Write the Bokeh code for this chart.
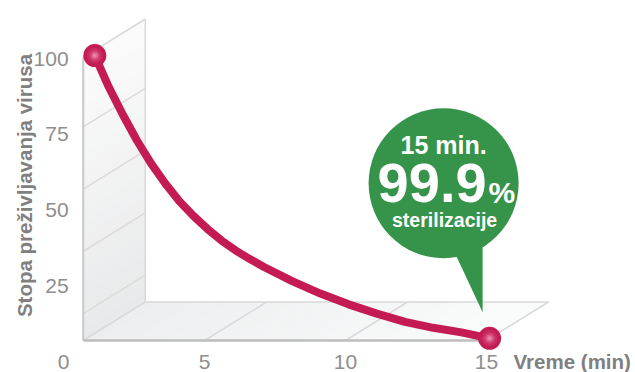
from bokeh.plotting import figure
from bokeh.models import Range1d
from bokeh.core.properties import value
from bokeh.embed import file_html
from bokeh.resources import INLINE

# ---- data -------------------------------------------------------------
minutes = [1, 1.5, 2, 2.5, 3, 3.5, 4, 4.5, 5, 5.5, 6, 6.5, 7,
           8, 9, 10, 11, 12, 13, 14, 15]
survival = [100, 88.8, 79.0, 69.9, 61.8, 54.8, 48.5, 43.3, 38.7, 34.6, 31.1, 28.1, 25.3,
            20.3, 15.9, 12.1, 8.8, 5.9, 3.8, 2.2, 0.1]

x_ticks = [0, 5, 10, 15]
x_tick_labels = ["0", "5", "10", "15"]
y_ticks = [25, 50, 75, 100]
y_tick_labels = ["25", "50", "75", "100"]

x_title = "Vreme (min)"
y_title = "Stopa preživljavanja virusa"
callout_lines = ["15 min.", "99.9", "%", "sterilizacije"]

# ---- layout -----------------------------------------------------------
W, H = 635, 372
X0_PX, PX_PER_MIN = 63.0, 28.2          # screen x of t=0, pixels per minute
FLOOR_PX, PX_PER_PCT = 340.0, 2.83      # front floor of the box, pixels per %
TICK0_PX, TICK_PX_PER_PCT = 361.0, 3.03 # scale used by the printed tick labels

BOX_LEFT, BOX_RIGHT, BOX_TOP = 0.7, 15.0, 100.0
DEPTH_X, DEPTH_Y = 2.2, 13.6            # perspective offset of the back planes
WALL_LINES = [9.5, 31.5, 53.5, 75.5]
CURVE_DEPTH = 0.05

FONT = value("Liberation Sans")
CRIMSON = "#c51b55"
GREEN = "#36944a"
EDGE = "#d9d9d9"
TICK_COLOR = "#8e8e8e"
TITLE_COLOR = "#808080"


def px_to_plot(sx, sy):
    return (sx - X0_PX) / PX_PER_MIN, (FLOOR_PX - sy) / PX_PER_PCT


def blend(c0, c1, f):
    a = [int(c0[i:i + 2], 16) for i in (1, 3, 5)]
    b = [int(c1[i:i + 2], 16) for i in (1, 3, 5)]
    return "#%02x%02x%02x" % tuple(round(a[k] + (b[k] - a[k]) * f) for k in range(3))


p = figure(width=W, height=H, output_backend="svg", toolbar_location=None,
           x_axis_location=None, y_axis_location=None, min_border=0,
           x_range=Range1d(-X0_PX / PX_PER_MIN, (W - X0_PX) / PX_PER_MIN),
           y_range=Range1d(-(H - FLOOR_PX) / PX_PER_PCT, FLOOR_PX / PX_PER_PCT))
p.extra_y_ranges = {"ticks": Range1d(-(H - TICK0_PX) / TICK_PX_PER_PCT,
                                     TICK0_PX / TICK_PX_PER_PCT)}
p.outline_line_color = None
p.background_fill_color = "white"
p.border_fill_color = "white"
p.grid.visible = False

# ---- 3D box: left wall and floor with soft shading --------------------
n = 24
wall_xs, wall_ys, wall_c = [], [], []
for i in range(n):
    v0 = BOX_TOP * i / n
    v1 = BOX_TOP * (i + 1) / n
    wall_xs.append([BOX_LEFT, BOX_LEFT, BOX_LEFT + DEPTH_X, BOX_LEFT + DEPTH_X])
    wall_ys.append([v0, v1, v1 + DEPTH_Y, v0 + DEPTH_Y])
    wall_c.append(blend("#e8e9ea", "#fbfbfb", i / (n - 1)))
p.patches(wall_xs, wall_ys, fill_color=wall_c, line_color=wall_c, line_width=0.5)

floor_xs, floor_ys, floor_c = [], [], []
for i in range(n):
    t0 = BOX_LEFT + (BOX_RIGHT - BOX_LEFT) * i / n
    t1 = BOX_LEFT + (BOX_RIGHT - BOX_LEFT) * (i + 1) / n
    floor_xs.append([t0, t1, t1 + DEPTH_X, t0 + DEPTH_X])
    floor_ys.append([0, 0, DEPTH_Y, DEPTH_Y])
    floor_c.append(blend("#eceeef", "#fafbfb", i / (n - 1)))
p.patches(floor_xs, floor_ys, fill_color=floor_c, line_color=floor_c, line_width=0.5)

# wall grid lines
p.multi_line([[BOX_LEFT, BOX_LEFT + DEPTH_X] for _ in WALL_LINES],
             [[v, v + DEPTH_Y] for v in WALL_LINES],
             line_color="#dadada", line_width=1.5)
# floor grid lines at the labelled minutes
inner = [t for t in x_ticks if BOX_LEFT < t < BOX_RIGHT]
p.multi_line([[t, t + DEPTH_X] for t in inner], [[0, DEPTH_Y] for _ in inner],
             line_color="#dadada", line_width=1.5)

# box edges
p.multi_line(
    [[BOX_LEFT + DEPTH_X, BOX_LEFT + DEPTH_X],
     [BOX_LEFT, BOX_LEFT + DEPTH_X],
     [BOX_LEFT + DEPTH_X, BOX_RIGHT + DEPTH_X],
     [BOX_RIGHT, BOX_RIGHT + DEPTH_X],
     [BOX_LEFT, BOX_LEFT + DEPTH_X]],
    [[DEPTH_Y, BOX_TOP + DEPTH_Y],
     [BOX_TOP, BOX_TOP + DEPTH_Y],
     [DEPTH_Y, DEPTH_Y],
     [0, DEPTH_Y],
     [0, DEPTH_Y]],
    line_color=EDGE, line_width=1.5)
p.line([BOX_LEFT, BOX_LEFT], [0, BOX_TOP], line_color="#c8c8c8", line_width=2)
p.line([BOX_LEFT, BOX_RIGHT], [0, 0], line_color="#bdbdbd", line_width=2.5)

# ---- survival curve ---------------------------------------------------
cx = [t + CURVE_DEPTH * DEPTH_X for t in minutes]
cy = [v + CURVE_DEPTH * DEPTH_Y for v in survival]
p.line(cx, cy, line_color=CRIMSON, line_width=8, line_cap="round", line_join="round")

# end markers with a soft glossy centre
ends_x = [cx[0], cx[-1]]
ends_y = [cy[0], cy[-1]]
p.scatter(ends_x, ends_y, size=23, marker="circle", fill_color=CRIMSON, line_color=None)
for size, colour, alpha in [(16, "#cc2d63", 0.8), (11, "#d64a7d", 0.7),
                            (7, "#e06f98", 0.7), (4, "#ea93b3", 0.7)]:
    p.scatter(ends_x, ends_y, size=size, marker="circle", fill_color=colour,
              fill_alpha=alpha, line_color=None)

# ---- callout bubble anchored above the last point ----------------------
end_sx = X0_PX + cx[-1] * PX_PER_MIN
end_sy = FLOOR_PX - cy[-1] * PX_PER_PCT
bx, by = px_to_plot(end_sx - 46, end_sy - 155)
p.scatter([bx], [by], size=150, marker="circle", fill_color=GREEN, line_color=None)
tail = [px_to_plot(end_sx - 36, end_sy - 88),
        px_to_plot(end_sx - 7, end_sy - 92),
        px_to_plot(end_sx - 7, end_sy - 26)]
p.patch([q[0] for q in tail], [q[1] for q in tail], fill_color=GREEN, line_color=None)

l1 = px_to_plot(end_sx - 46, end_sy - 193)
l2 = px_to_plot(end_sx - 3, end_sy - 155)
l3 = px_to_plot(end_sx - 1, end_sy - 146)
l4 = px_to_plot(end_sx - 45, end_sy - 118)
p.text([l1[0]], [l1[1]], text=[callout_lines[0]], text_font=FONT, text_font_style="bold",
       text_font_size="25px", text_color="white", text_align="center", text_baseline="middle")
p.text([l2[0]], [l2[1]], text=[callout_lines[1]], text_font=FONT, text_font_style="bold",
       text_font_size="56px", text_color="white", text_align="right", text_baseline="middle")
p.text([l3[0]], [l3[1]], text=[callout_lines[2]], text_font=FONT, text_font_style="bold",
       text_font_size="30px", text_color="white", text_align="left", text_baseline="middle")
p.text([l4[0]], [l4[1]], text=[callout_lines[3]], text_font=FONT, text_font_style="bold",
       text_font_size="19.5px", text_color="white", text_align="center", text_baseline="middle")

# ---- tick labels and titles -------------------------------------------
p.text(x_ticks, [0] * len(x_ticks), text=x_tick_labels, text_font=FONT,
       text_font_size="21px", text_color=TICK_COLOR, text_align="center",
       text_baseline="middle", y_range_name="ticks")
p.text([0.18] * len(y_ticks), y_ticks, text=y_tick_labels, text_font=FONT,
       text_font_size="21px", text_color=TICK_COLOR, text_align="right",
       text_baseline="middle", y_range_name="ticks")
p.text([x_ticks[-1] + 0.96], [0], text=[x_title], text_font=FONT, text_font_style="bold",
       text_font_size="20.5px", text_color=TITLE_COLOR, text_align="left",
       text_baseline="middle", y_range_name="ticks")
ty = px_to_plot(24, 185)
p.text([ty[0]], [ty[1]], text=[y_title], text_font=FONT, text_font_style="bold",
       text_font_size="20.5px", text_color=TITLE_COLOR, text_align="center",
       text_baseline="middle", angle=1.5707963267948966)

open("out.html", "w").write(file_html(p, INLINE))
